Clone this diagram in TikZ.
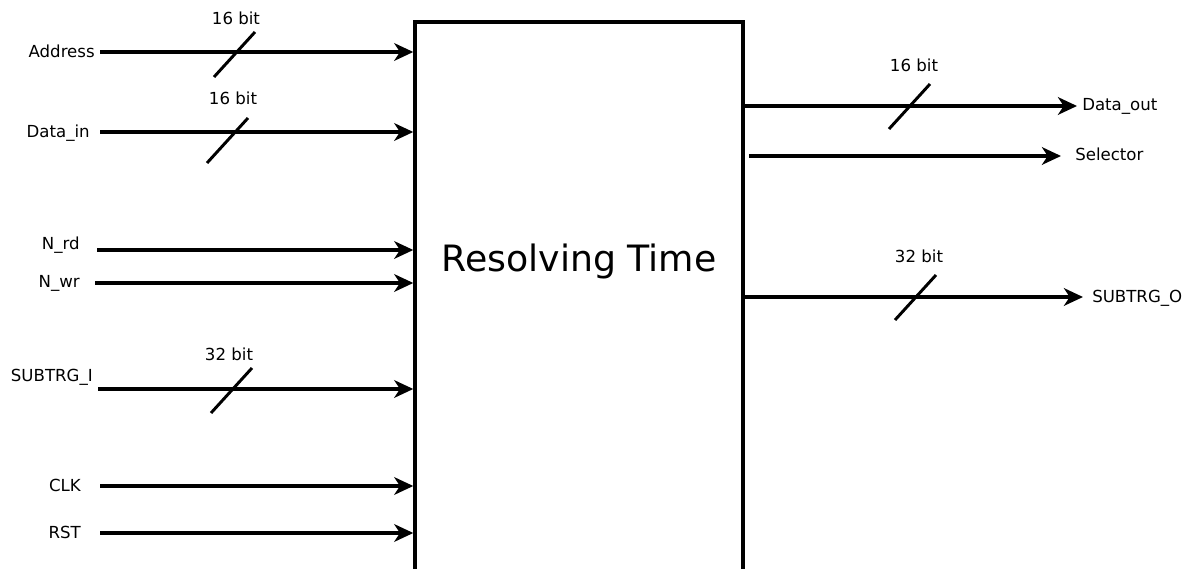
\documentclass[tikz,border=0pt]{standalone}
\usepackage{fontspec}
\setmainfont{DejaVu Sans}
\usetikzlibrary{arrows.meta,positioning}

\tikzset{
  sig/.style={line width=2.3pt, -{Stealth[length=13.5pt,width=12.5pt,inset=4pt]}},
  pinlbl/.style={font=\fontsize{11.8}{14}\selectfont, inner sep=0pt},
  busmark/.style={line width=2.1pt},
  blockbox/.style={draw, line width=2.4pt, minimum width=8.2cm, minimum height=14.95cm}
}

\begin{document}
\begin{tikzpicture}[x=0.025cm, y=-0.025cm]
\useasboundingbox (0,0) rectangle (1190,569);

% the block (runs off the bottom edge)
\node[blockbox] (rt) at (579,321) {};
\node[font=\fontsize{25.8}{30}\selectfont, inner sep=0pt, anchor=base] (title) at (579,272) {Resolving Time};

% input pins
\node[pinlbl, anchor=base east] (addr) at (95,57.5) {Address};
\node[pinlbl, anchor=base east] (din)  at (90,138) {Data\_in};
\node[pinlbl, anchor=base east] (nrd)  at (80,250) {N\_rd};
\node[pinlbl, anchor=base east] (nwr)  at (80,288) {N\_wr};
\node[pinlbl, anchor=base east] (sti)  at (93,382) {SUBTRG\_I};
\node[pinlbl, anchor=base east] (clk)  at (81,492) {CLK};
\node[pinlbl, anchor=base east] (rst)  at (81,538) {RST};

\coordinate (addr-s) at (100,52);
\coordinate (din-s)  at (100,132);
\coordinate (nrd-s)  at (97,250);
\coordinate (nwr-s)  at (95,283);
\coordinate (sti-s)  at (98,389);
\coordinate (clk-s)  at (100,486);
\coordinate (rst-s)  at (100,533);

\foreach \p in {addr,din,nrd,nwr,sti,clk,rst}
  \draw[sig] (\p-s) -- (\p-s -| rt.west);

% output pins
\node[pinlbl, anchor=base west] (dout) at (1082,111) {Data\_out};
\node[pinlbl, anchor=base west] (sel)  at (1075,161) {Selector};
\node[pinlbl, anchor=base west] (sto)  at (1092,303) {SUBTRG\_O};

\coordinate (dout-e) at (1077,106);
\coordinate (sel-e)  at (1061,156);
\coordinate (sto-e)  at (1083,297);

\draw[sig] (rt.east |- dout-e) -- (dout-e);
\draw[sig] ([xshift=3pt]rt.east |- sel-e) -- (sel-e);
\draw[sig] (rt.east |- sto-e) -- (sto-e);

% bus width marks
\foreach \a/\b/\lx/\ly/\w in {214/77/236/25/16, 207/163/233/105/16, 211/413/229/361/32,
                              889/129/914/72/16, 895/320/919/263/32}{
  \draw[busmark] (\a,\b) -- ++(41,-45);
  \node[pinlbl, anchor=base] at (\lx,\ly) {\w{} bit};
}
\end{tikzpicture}
\end{document}
